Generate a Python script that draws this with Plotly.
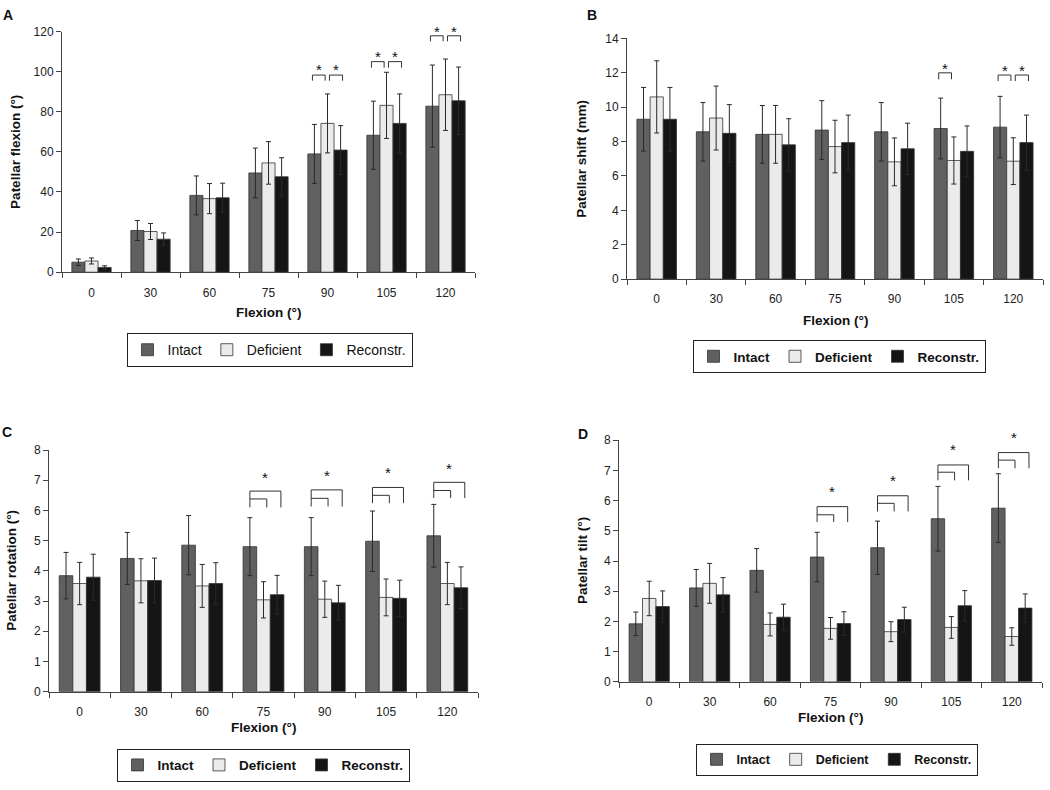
import plotly.graph_objects as go

# ---------------- data ----------------
angles = ["0", "30", "60", "75", "90", "105", "120"]
groups = ["Intact", "Deficient", "Reconstr."]

# A: patellar flexion (deg)
flex_intact = [5.0, 20.8, 38.3, 49.5, 59.0, 68.3, 82.8]
flex_intact_sd = [1.6, 5.0, 9.7, 12.4, 14.7, 17.0, 20.5]
flex_def = [5.6, 20.3, 36.7, 54.5, 74.2, 83.2, 88.5]
flex_def_sd = [1.5, 4.0, 7.5, 10.6, 14.7, 16.5, 17.8]
flex_rec = [2.4, 16.5, 37.1, 47.6, 60.9, 74.2, 85.5]
flex_rec_sd = [0.8, 3.1, 7.3, 9.5, 12.2, 14.7, 16.8]

# B: patellar shift (mm)
shift_intact = [9.3, 8.57, 8.42, 8.67, 8.57, 8.76, 8.84]
shift_intact_sd = [1.85, 1.70, 1.68, 1.71, 1.70, 1.77, 1.79]
shift_def = [10.6, 9.37, 8.42, 7.71, 6.82, 6.90, 6.86]
shift_def_sd = [2.10, 1.86, 1.68, 1.53, 1.39, 1.37, 1.36]
shift_rec = [9.3, 8.48, 7.81, 7.94, 7.58, 7.43, 7.94]
shift_rec_sd = [1.85, 1.67, 1.52, 1.60, 1.49, 1.48, 1.60]

# C: patellar rotation (deg)
rot_intact = [3.84, 4.41, 4.85, 4.80, 4.80, 4.98, 5.16]
rot_intact_sd = [0.77, 0.86, 0.98, 0.96, 0.96, 1.00, 1.04]
rot_def = [3.58, 3.67, 3.50, 3.04, 3.06, 3.12, 3.58]
rot_def_sd = [0.70, 0.73, 0.71, 0.60, 0.60, 0.61, 0.70]
rot_rec = [3.79, 3.68, 3.58, 3.21, 2.94, 3.09, 3.44]
rot_rec_sd = [0.76, 0.74, 0.69, 0.64, 0.58, 0.60, 0.69]

# D: patellar tilt (deg)
tilt_intact = [1.92, 3.11, 3.69, 4.13, 4.44, 5.40, 5.75]
tilt_intact_sd = [0.39, 0.61, 0.72, 0.82, 0.88, 1.07, 1.14]
tilt_def = [2.76, 3.26, 1.90, 1.77, 1.66, 1.80, 1.50]
tilt_def_sd = [0.57, 0.66, 0.38, 0.36, 0.33, 0.36, 0.29]
tilt_rec = [2.49, 2.88, 2.14, 1.93, 2.06, 2.52, 2.44]
tilt_rec_sd = [0.52, 0.57, 0.43, 0.39, 0.41, 0.50, 0.47]

# significance brackets
A_sig_idx = [4, 5, 6]
A_sig_top = [98.3, 105.0, 117.9]
A_sig_bot = [95.5, 102.0, 115.1]
A_sig_pairs = [2, 2, 2]
A_star_y = [102.0, 108.6, 121.0]

B_sig_idx = [5, 6]
B_sig_top = [12.0, 11.87]
B_sig_bot = [11.62, 11.52]
B_sig_pairs = [1, 2]
B_star_y = [12.38, 12.23]

C_sig_idx = [3, 4, 5, 6]
C_sig_outer = [6.64, 6.68, 6.76, 6.93]
C_sig_inner = [6.38, 6.40, 6.50, 6.66]
C_sig_bot = [6.10, 6.13, 6.24, 6.41]
C_star_y = [7.17, 7.22, 7.31, 7.46]

D_sig_idx = [3, 4, 5, 6]
D_sig_outer = [5.80, 6.16, 7.18, 7.59]
D_sig_inner = [5.53, 5.91, 6.94, 7.34]
D_sig_bot = [5.29, 5.64, 6.67, 7.07]
D_star_y = [6.36, 6.72, 7.75, 8.15]

# ---------------- style ----------------
FW, FH = 1050, 790
FONT = "Liberation Sans, Arial, sans-serif"
colors = ["#606060", "#ebebeb", "#151515"]
BW = 0.222  # bar width (category units)


def px(x):
    return x / FW


def py(y):
    return 1 - y / FH


panels = [
    dict(key="A", vals=[flex_intact, flex_def, flex_rec],
         sds=[flex_intact_sd, flex_def_sd, flex_rec_sd],
         ytitle="Patellar flexion (°)", yrange=[0, 120], dtick=20,
         xd=(62, 475), yd=(25, 270), ytx=16, xty=311, letter=(8, 8),
         leg=(269.5, 332), legbold=False, legsize=14),
    dict(key="B", vals=[shift_intact, shift_def, shift_rec],
         sds=[shift_intact_sd, shift_def_sd, shift_rec_sd],
         ytitle="Patellar shift (mm)", yrange=[0, 14], dtick=2,
         xd=(627, 1043), yd=(32, 277), ytx=582, xty=319, letter=(592, 8),
         leg=(839, 339), legbold=True, legsize=13.5),
    dict(key="C", vals=[rot_intact, rot_def, rot_rec],
         sds=[rot_intact_sd, rot_def_sd, rot_rec_sd],
         ytitle="Patellar rotation (°)", yrange=[0, 8], dtick=1,
         xd=(49, 478), yd=(451, 697), ytx=12, xty=733, letter=(7, 433),
         leg=(263, 755), legbold=True, legsize=13.5),
    dict(key="D", vals=[tilt_intact, tilt_def, tilt_rec],
         sds=[tilt_intact_sd, tilt_def_sd, tilt_rec_sd],
         ytitle="Patellar tilt (°)", yrange=[0, 8], dtick=1,
         xd=(619, 1042), yd=(441, 687), ytx=582, xty=723, letter=(583, 435),
         leg=(836.5, 750), legbold=True, legsize=12.5),
]

fig = go.Figure()
annotations = []
shapes = []
idx = list(range(len(angles)))

for p_i, p in enumerate(panels):
    n = "" if p_i == 0 else str(p_i + 1)
    xa, ya = "x" + n, "y" + n
    legname = "legend" + n
    for k in range(3):
        fig.add_trace(go.Bar(
            x=idx, y=p["vals"][k], name=groups[k],
            width=BW, offset=-1.5 * BW + k * BW,
            marker=dict(color=colors[k], line=dict(color="#333333", width=0.8)),
            error_y=dict(type="data", array=p["sds"][k], color="#2a2a2a",
                         thickness=1, width=2.5),
            xaxis=xa, yaxis=ya, legend=legname,
        ))
    xkey = "xaxis" + n
    ykey = "yaxis" + n
    fig.update_layout(**{
        xkey: dict(domain=[px(p["xd"][0]), px(p["xd"][1])], anchor=ya,
                   range=[-0.5, len(angles) - 0.5], tickvals=idx, ticktext=angles,
                   ticks="outside", ticklen=9, tickcolor="rgba(0,0,0,0)",
                   showline=True, linecolor="#444444", linewidth=1,
                   showgrid=False, zeroline=False, fixedrange=True,
                   tickfont=dict(size=12, color="#222222", family=FONT),
                   minor=dict(tickvals=[i - 0.5 for i in range(len(angles) + 1)],
                              ticks="outside", ticklen=5, tickcolor="#444444",
                              showgrid=False)),
        ykey: dict(domain=[py(p["yd"][1]), py(p["yd"][0])], anchor=xa,
                   range=p["yrange"], dtick=p["dtick"], ticks="outside",
                   ticklen=5, tickcolor="#444444", showline=True,
                   linecolor="#444444", linewidth=1, showgrid=False,
                   zeroline=False, fixedrange=True,
                   tickfont=dict(size=12, color="#222222", family=FONT)),
        legname: dict(orientation="h", x=px(p["leg"][0]), y=py(p["leg"][1]),
                      xanchor="center", yanchor="top", bordercolor="#222222",
                      borderwidth=1, bgcolor="white", itemwidth=30,
                      font=dict(size=p["legsize"], color="#111111", family=FONT,
                                weight="bold" if p["legbold"] else "normal")),
    })
    cx = (p["xd"][0] + p["xd"][1]) / 2
    cy = (p["yd"][0] + p["yd"][1]) / 2
    annotations.append(dict(text="<b>Flexion (°)</b>", x=px(cx), y=py(p["xty"]),
                            xref="paper", yref="paper", showarrow=False,
                            xanchor="center", yanchor="middle",
                            font=dict(size=13.5, color="#111111", family=FONT)))
    annotations.append(dict(text="<b>" + p["ytitle"] + "</b>", x=px(p["ytx"]), y=py(cy),
                            xref="paper", yref="paper", showarrow=False, textangle=-90,
                            xanchor="center", yanchor="middle",
                            font=dict(size=13.5, color="#111111", family=FONT)))
    annotations.append(dict(text="<b>" + p["key"] + "</b>", x=px(p["letter"][0]),
                            y=py(p["letter"][1]), xref="paper", yref="paper",
                            showarrow=False, xanchor="center", yanchor="middle",
                            font=dict(size=14, color="#111111", family=FONT)))


def bracket(xref, yref, x0, x1, ytop, ybot0, ybot1):
    return dict(type="path", xref=xref, yref=yref,
                path=f"M {x0},{ybot0} L {x0},{ytop} L {x1},{ytop} L {x1},{ybot1}",
                line=dict(color="#333333", width=1))


def star(xref, yref, x, y, ymax):
    # y given in data units; placed via the axis domain so it may exceed the range
    return dict(text="*", x=x, y=y / ymax, xref=xref, yref=yref + " domain",
                showarrow=False, xanchor="center", yanchor="middle", yshift=-2,
                font=dict(size=15, color="#111111", family=FONT))


def centers(i):
    return [i - BW + k * BW for k in range(3)]


# pairwise brackets (A, B)
for (xr, yr, ymax, sidx, stop, sbot, spairs, sy) in [
        ("x", "y", 120, A_sig_idx, A_sig_top, A_sig_bot, A_sig_pairs, A_star_y),
        ("x2", "y2", 14, B_sig_idx, B_sig_top, B_sig_bot, B_sig_pairs, B_star_y)]:
    for i, t, b, npair, s in zip(sidx, stop, sbot, spairs, sy):
        c = centers(i)
        l0, l1 = c[0] - 0.15 * BW, c[1] - 0.18 * BW
        shapes.append(bracket(xr, yr, l0, l1, t, b, b))
        annotations.append(star(xr, yr, (l0 + l1) / 2, s, ymax))
        if npair == 2:
            r0, r1 = c[1] + 0.15 * BW, c[2] + 0.15 * BW
            shapes.append(bracket(xr, yr, r0, r1, t, b, b))
            annotations.append(star(xr, yr, (r0 + r1) / 2, s, ymax))

# nested brackets (C, D)
for (xr, yr, ymax, sidx, souter, sinner, sbot, sy) in [
        ("x3", "y3", 8, C_sig_idx, C_sig_outer, C_sig_inner, C_sig_bot, C_star_y),
        ("x4", "y4", 8, D_sig_idx, D_sig_outer, D_sig_inner, D_sig_bot, D_star_y)]:
    for i, o, inn, b, s in zip(sidx, souter, sinner, sbot, sy):
        c = centers(i)
        x0 = c[0]
        xo = c[2] + 0.28 * BW
        xi = c[1] + 0.24 * BW
        shapes.append(bracket(xr, yr, x0, xo, o, b, b))
        shapes.append(bracket(xr, yr, x0, xi, inn, inn, b))
        annotations.append(star(xr, yr, (x0 + xo) / 2, s, ymax))

fig.update_layout(
    width=FW, height=FH, margin=dict(l=0, r=0, t=0, b=0),
    paper_bgcolor="white", plot_bgcolor="white",
    font=dict(family=FONT, color="#222222"),
    showlegend=True, barmode="overlay",
    annotations=annotations, shapes=shapes,
)

fig.write_html("out.html", config={"displayModeBar": False},
               post_script="document.body.style.margin='0';document.body.style.overflow='hidden';")
